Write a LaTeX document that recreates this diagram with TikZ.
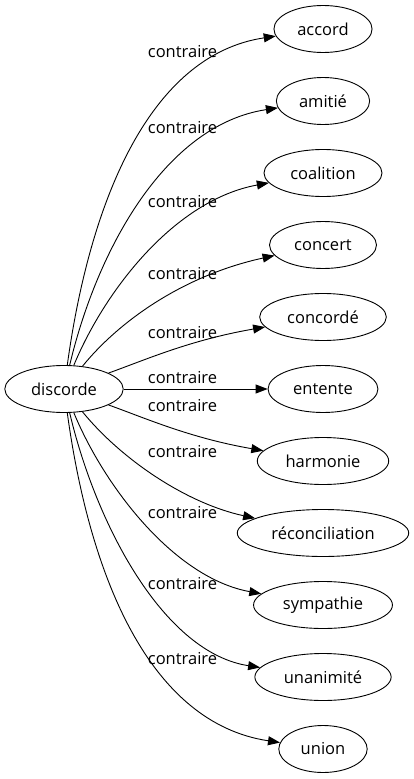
\documentclass[tikz,border=0pt]{standalone}
\usepackage{fontspec}
\setmainfont{Open Sans}
\usetikzlibrary{shapes.geometric,arrows.meta}
\begin{document}
\begin{tikzpicture}[x=1pt,y=-1pt,
  every node/.style={font=\fontsize{16.5}{18}\selectfont},
  word/.style={draw,ellipse,line width=0.9pt,inner xsep=9pt,inner ysep=0pt,minimum height=47pt},
  lab/.style={inner sep=0pt},
  edge/.style={draw,line width=0.9pt,-{Triangle[length=12pt,width=9pt]}}]
\useasboundingbox (0,0) rectangle (414,779);
\node[word] (d) at (64,389) {discorde};
\node[word] (n1) at (323,29) {accord};
\node[word] (n2) at (323,101) {amitié};
\node[word] (n3) at (323,173) {coalition};
\node[word] (n4) at (323,245) {concert};
\node[word] (n5) at (323,317) {concordé};
\node[word] (n6) at (323,389) {entente};
\node[word] (n7) at (323,461) {harmonie};
\node[word] (n8) at (323,533) {réconciliation};
\node[word] (n9) at (323,605) {sympathie};
\node[word] (n10) at (323,677) {unanimité};
\node[word] (n11) at (323,749) {union};
\node[lab] (l1) at (182.5,52) {contraire};
\node[lab] (l2) at (182.5,128) {contraire};
\node[lab] (l3) at (182.5,202) {contraire};
\node[lab] (l4) at (182.5,274) {contraire};
\node[lab] (l5) at (182.5,333) {contraire};
\node[lab] (l6) at (182.5,378) {contraire};
\node[lab] (l7) at (182.5,406) {contraire};
\node[lab] (l8) at (182.5,452) {contraire};
\node[lab] (l9) at (182.5,513) {contraire};
\node[lab] (l10) at (182.5,584) {contraire};
\node[lab] (l11) at (182.5,659) {contraire};
\draw[edge] (d) .. controls (90,200) and (150,55) .. (n1);
\draw[edge] (d) .. controls (97,250) and (165,125) .. (n2);
\draw[edge] (d) .. controls (105,290) and (175,200) .. (n3);
\draw[edge] (d) .. controls (120,320) and (185,275) .. (n4);
\draw[edge] (d) .. controls (145,360) and (190,340) .. (n5);
\draw[edge] (d) -- (n6);
\draw[edge] (d) .. controls (145,418) and (190,438) .. (n7);
\draw[edge] (d) .. controls (120,458) and (185,503) .. (n8);
\draw[edge] (d) .. controls (105,488) and (175,578) .. (n9);
\draw[edge] (d) .. controls (97,528) and (165,653) .. (n10);
\draw[edge] (d) .. controls (90,578) and (150,723) .. (n11);
\end{tikzpicture}
\end{document}
